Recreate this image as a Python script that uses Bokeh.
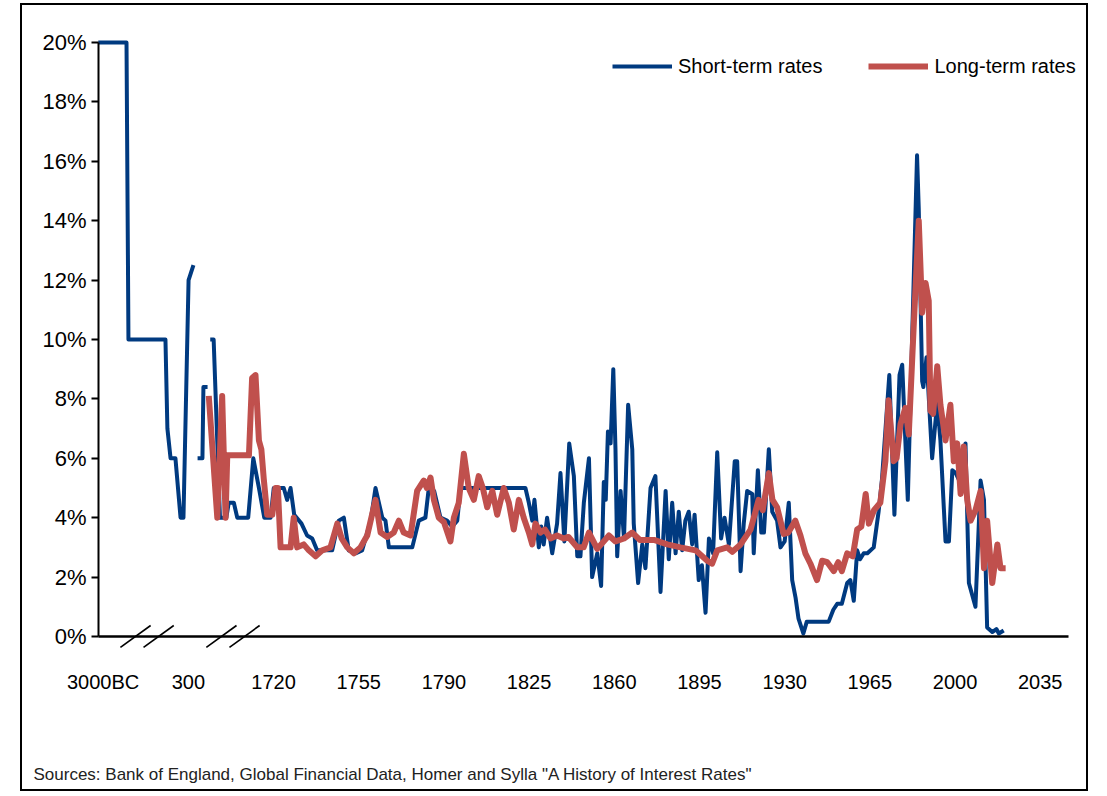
import numpy as np
from bokeh.plotting import figure
from bokeh.models import (ColumnDataSource, FixedTicker, PrintfTickFormatter,
                          Legend, LegendItem, Label, Range1d)
from bokeh.embed import file_html
from bokeh.resources import INLINE

NaN = float("nan")

# Position on the chart's compressed time axis (ancient eras squeezed before 1720)
short_x = [1648.0, 1659.6, 1660.4, 1675.6, 1676.4, 1677.7, 1679.7, 1681.8, 1683.0, 1685.1, 1687.1, NaN,
           1688.8, 1690.8, 1691.2, 1692.9, NaN,
           1694.0, 1695.4, 1698.0, 1700.6, 1701.6, 1703.7, 1705.1, 1709.6, 1711.7, 1714.0, 1716.2, 1718.8,
           1720.1, 1724.2, 1725.6, 1727.0, 1728.5, 1731.5, 1733.8, 1735.9, 1737.9, 1744.1, 1746.8, 1748.9,
           1750.9, 1753.7, 1756.4, 1759.9, 1761.9, 1764.7, 1766.0, 1767.4, 1777.0, 1779.7, 1782.4, 1783.8,
           1786.0, 1788.6, 1791.3, 1793.4, 1795.5, 1796.8, 1823.5, 1824.9, 1826.3, 1827.2, 1829.0, 1830.0,
           1831.0, 1832.4, 1834.5, 1836.5, 1837.9, 1839.5, 1841.5, 1843.4, 1844.8, 1846.1, 1847.5, 1849.6,
           1850.9, 1853.0, 1854.6, 1855.7, 1856.5, 1857.4, 1858.5, 1859.6, 1860.5, 1861.2, 1862.6, 1864.0,
           1865.7, 1867.4, 1868.0, 1869.8, 1871.5, 1872.8, 1874.9, 1876.9, 1879.0, 1881.1, 1882.4, 1883.8,
           1885.2, 1886.5, 1887.9, 1889.2, 1890.6, 1892.0, 1893.0, 1894.7, 1896.0, 1897.5, 1898.9, 1900.6,
           1902.3, 1903.9, 1905.3, 1907.1, 1909.5, 1910.5, 1911.9, 1913.2, 1914.6, 1916.7, 1917.3, 1919.0,
           1920.4, 1921.5, 1923.5, 1924.9, 1926.9, 1928.3, 1930.0, 1931.7, 1933.1, 1934.5, 1935.7, 1937.7,
           1939.1, 1948.1, 1950.0, 1951.6, 1953.5, 1955.7, 1957.0, 1958.4, 1959.8, 1961.0, 1962.5, 1964.0,
           1966.6, 1968.6, 1970.0, 1973.0, 1975.1, 1977.2, 1978.3, 1980.6, 1984.4, 1985.1, 1986.5, 1987.0,
           1988.3, 1990.6, 1992.7, 1994.0, 1996.1, 1997.5, 1998.9, 2000.3, 2002.0, 2004.3, 2005.7, 2008.4,
           2010.5, 2011.9, 2013.2, 2015.3, 2017.0, 2018.0, 2020.0]
short_rate = [20.0, 20.0, 10.0, 10.0, 7.0, 6.0, 6.0, 4.0, 4.0, 12.0, 12.5, NaN,
              6.0, 6.0, 8.4, 8.4, NaN,
              10.0, 10.0, 4.0, 4.0, 4.5, 4.5, 4.0, 4.0, 6.0, 5.0, 4.0, 4.0,
              5.0, 5.0, 4.6, 5.0, 4.1, 3.8, 3.4, 3.3, 2.9, 2.9, 3.9, 4.0,
              2.9, 2.8, 2.9, 3.9, 5.0, 4.0, 3.9, 3.0, 3.0, 3.9, 4.0, 5.0,
              4.9, 4.0, 3.9, 3.7, 3.9, 5.0, 5.0, 4.5, 3.9, 4.6, 3.0, 3.7,
              3.1, 4.0, 2.8, 3.8, 5.5, 3.2, 6.5, 5.4, 2.7, 2.7, 4.5, 6.0,
              2.0, 2.8, 1.7, 5.2, 4.6, 6.9, 6.5, 9.0, 6.3, 2.7, 4.9, 3.3,
              7.8, 6.3, 3.8, 1.8, 3.1, 2.3, 5.0, 5.4, 1.5, 4.9, 2.6, 4.5,
              2.8, 4.2, 2.9, 3.9, 4.2, 3.1, 4.1, 1.9, 2.4, 0.8, 3.3, 2.8,
              6.2, 3.3, 4.0, 3.1, 5.9, 5.9, 2.2, 3.8, 4.9, 4.8, 2.8, 5.6,
              3.5, 3.5, 6.3, 4.2, 3.9, 3.0, 3.2, 4.5, 1.9, 1.3, 0.6, 0.1,
              0.5, 0.5, 0.9, 1.1, 1.1, 1.8, 1.9, 1.2, 2.9, 2.6, 2.8, 2.8,
              3.0, 4.2, 5.3, 8.8, 4.1, 8.8, 9.15, 4.6, 16.2, 14.4, 8.6, 8.4,
              9.4, 6.0, 7.9, 6.6, 3.2, 3.2, 5.6, 5.5, 5.2, 6.5, 1.8, 1.0,
              5.25, 4.6, 0.3, 0.15, 0.25, 0.1, 0.2]

long_x = [1693.4, 1696.9, 1698.9, 1700.3, 1701.0, 1709.9, 1711.2, 1712.6, 1714.0, 1715.0, 1716.0, 1717.4,
          1719.5, 1720.8, 1721.8, 1722.9, 1727.0, 1728.3, 1729.7, 1732.4, 1734.5, 1737.3, 1740.0, 1743.4,
          1746.2, 1748.0, 1750.3, 1753.0, 1755.7, 1758.5, 1761.9, 1764.0, 1766.7, 1769.4, 1771.5, 1773.5,
          1776.3, 1779.0, 1781.7, 1783.0, 1784.5, 1785.9, 1787.9, 1790.0, 1792.7, 1794.1, 1796.1, 1798.2,
          1800.2, 1802.3, 1804.3, 1806.0, 1807.8, 1809.9, 1811.9, 1814.6, 1816.7, 1818.7, 1820.8, 1822.8,
          1824.9, 1826.3, 1827.6, 1829.7, 1831.5, 1833.8, 1836.5, 1839.3, 1841.2, 1844.8, 1847.4, 1849.6,
          1853.0, 1857.8, 1860.5, 1864.0, 1867.4, 1870.5, 1876.3, 1881.8, 1887.2, 1893.4, 1898.2, 1900.2,
          1902.3, 1906.4, 1908.5, 1911.9, 1916.0, 1919.3, 1921.0, 1923.5, 1925.0, 1926.9, 1929.6, 1931.5,
          1934.4, 1936.5, 1938.5, 1940.6, 1943.3, 1945.4, 1947.5, 1950.2, 1952.0, 1953.5, 1955.7, 1958.0,
          1959.8, 1961.5, 1963.3, 1964.6, 1966.7, 1969.3, 1971.4, 1972.7, 1974.8, 1976.0, 1977.6, 1979.6,
          1981.0, 1983.0, 1985.1, 1986.5, 1987.9, 1989.2, 1989.9, 1991.0, 1992.7, 1994.0, 1996.1, 1998.1,
          1999.5, 2000.9, 2002.3, 2003.6, 2005.0, 2006.4, 2008.4, 2010.5, 2011.9, 2013.2, 2015.3, 2017.4,
          2018.7, 2020.8]
long_rate = [8.1, 4.0, 8.1, 4.0, 6.1, 6.1, 8.7, 8.8, 6.6, 6.3, 5.3, 4.1,
             4.1, 5.0, 5.0, 3.0, 3.0, 4.0, 3.0, 3.1, 2.9, 2.7, 2.9, 3.0,
             3.8, 3.3, 3.0, 2.8, 3.0, 3.4, 4.6, 3.5, 3.35, 3.5, 3.9, 3.5,
             3.4, 4.9, 5.25, 5.0, 5.35, 4.6, 4.0, 3.85, 3.2, 4.0, 4.5, 6.15,
             5.0, 4.6, 5.4, 5.0, 4.35, 4.9, 4.1, 5.0, 4.5, 3.6, 4.6, 4.0,
             3.5, 3.1, 3.8, 3.5, 3.6, 3.3, 3.4, 3.3, 3.35, 3.0, 3.0, 3.5,
             2.95, 3.4, 3.2, 3.3, 3.5, 3.25, 3.25, 3.1, 3.0, 2.9, 2.55, 2.45,
             2.9, 3.0, 2.85, 3.1, 3.6, 4.6, 4.25, 5.5, 4.6, 4.35, 3.45, 3.5,
             3.9, 3.4, 2.8, 2.45, 1.9, 2.55, 2.5, 2.2, 2.5, 2.2, 2.8, 2.7,
             3.6, 3.7, 4.8, 3.8, 4.25, 4.5, 5.9, 7.95, 5.9, 6.0, 7.15, 7.7,
             6.8, 10.4, 14.0, 10.9, 11.9, 11.3, 7.6, 7.5, 9.1, 7.8, 6.6, 7.8,
             5.9, 6.5, 4.8, 6.4, 4.6, 3.9, 4.25, 4.9, 2.3, 3.9, 1.8, 3.1,
             2.3, 2.3]

tick_pos = [1650, 1685, 1720, 1755, 1790, 1825, 1860, 1895, 1930, 1965, 2000, 2035]
tick_labels = ["3000BC", "300", "1720", "1755", "1790", "1825", "1860", "1895",
               "1930", "1965", "2000", "2035"]
y_ticks = [0, 2, 4, 6, 8, 10, 12, 14, 16, 18, 20]
axis_break_at = [1663.3, 1672.8, 1698.6, 1708.1]
series_names = ["Short-term rates", "Long-term rates"]
source_note = 'Sources: Bank of England, Global Financial Data, Homer and Sylla "A History of Interest Rates"'

BLUE = "#003a80"
RED = "#c0504d"
FONT = "Liberation Sans"

X0, X_AXIS_END = 1648.1, 2046.6

p = figure(width=1068, height=788, output_backend="svg", toolbar_location=None,
           x_range=Range1d(1618.1, 2053.2), y_range=Range1d(-5.185, 20.3),
           min_border_left=3, min_border_right=6, min_border_top=28, min_border_bottom=3)
p.styles = {"border": "2px solid black", "margin-left": "20px", "margin-top": "3px"}
p.outline_line_color = None
p.xgrid.visible = False
p.ygrid.visible = False
p.background_fill_color = "white"
p.border_fill_color = "white"

short_src = ColumnDataSource(dict(x=np.array(short_x, dtype=float), y=np.array(short_rate, dtype=float)))
long_src = ColumnDataSource(dict(x=np.array(long_x, dtype=float), y=np.array(long_rate, dtype=float)))

r_short = p.line("x", "y", source=short_src, line_color=BLUE, line_width=4, line_join="round")
r_long = p.line("x", "y", source=long_src, line_color=RED, line_width=6, line_join="round")

# axis-break marks
brk = ColumnDataSource(dict(x0=[b - 6.2 for b in axis_break_at], x1=[b + 6.2 for b in axis_break_at],
                            y0=[-0.37] * len(axis_break_at), y1=[0.37] * len(axis_break_at)))
p.segment("x0", "y0", "x1", "y1", source=brk, line_color="black", line_width=1.6)

xa = p.xaxis[0]
xa.fixed_location = 0
xa.bounds = (X0, X_AXIS_END)
xa.ticker = FixedTicker(ticks=tick_pos)
xa.major_label_overrides = {t: l for t, l in zip(tick_pos, tick_labels)}
xa.major_tick_line_color = None
xa.minor_tick_line_color = None
xa.axis_line_width = 2.5
xa.axis_line_color = "black"
xa.major_label_standoff = 29
xa.major_label_text_font = FONT
xa.major_label_text_font_size = "20px"
xa.major_label_text_color = "black"

ya = p.yaxis[0]
ya.fixed_location = X0
ya.bounds = (0, 20)
ya.ticker = FixedTicker(ticks=y_ticks)
ya.formatter = PrintfTickFormatter(format="%d%%")
ya.minor_tick_line_color = None
ya.major_tick_in = 0
ya.major_tick_out = 7
ya.major_tick_line_width = 2
ya.axis_line_width = 2
ya.axis_line_color = "black"
ya.major_label_standoff = 5
ya.major_label_text_font = FONT
ya.major_label_text_font_size = "22px"
ya.major_label_text_color = "black"

legend = Legend(items=[LegendItem(label=series_names[0], renderers=[r_short]),
                       LegendItem(label=series_names[1], renderers=[r_long])],
                orientation="horizontal", location=(587, 712),
                border_line_color=None, background_fill_alpha=0,
                label_text_font=FONT, label_text_font_size="20px", label_text_color="black",
                glyph_width=60, glyph_height=24, label_height=24, label_standoff=6,
                spacing=46, padding=0, margin=0)
p.add_layout(legend)

note = Label(x=8, y=16, x_units="screen", y_units="screen", text=source_note,
             text_font=FONT, text_font_size="17px", text_color="#222222",
             text_baseline="alphabetic")
p.add_layout(note)

open("out.html", "w").write(file_html(p, INLINE))
